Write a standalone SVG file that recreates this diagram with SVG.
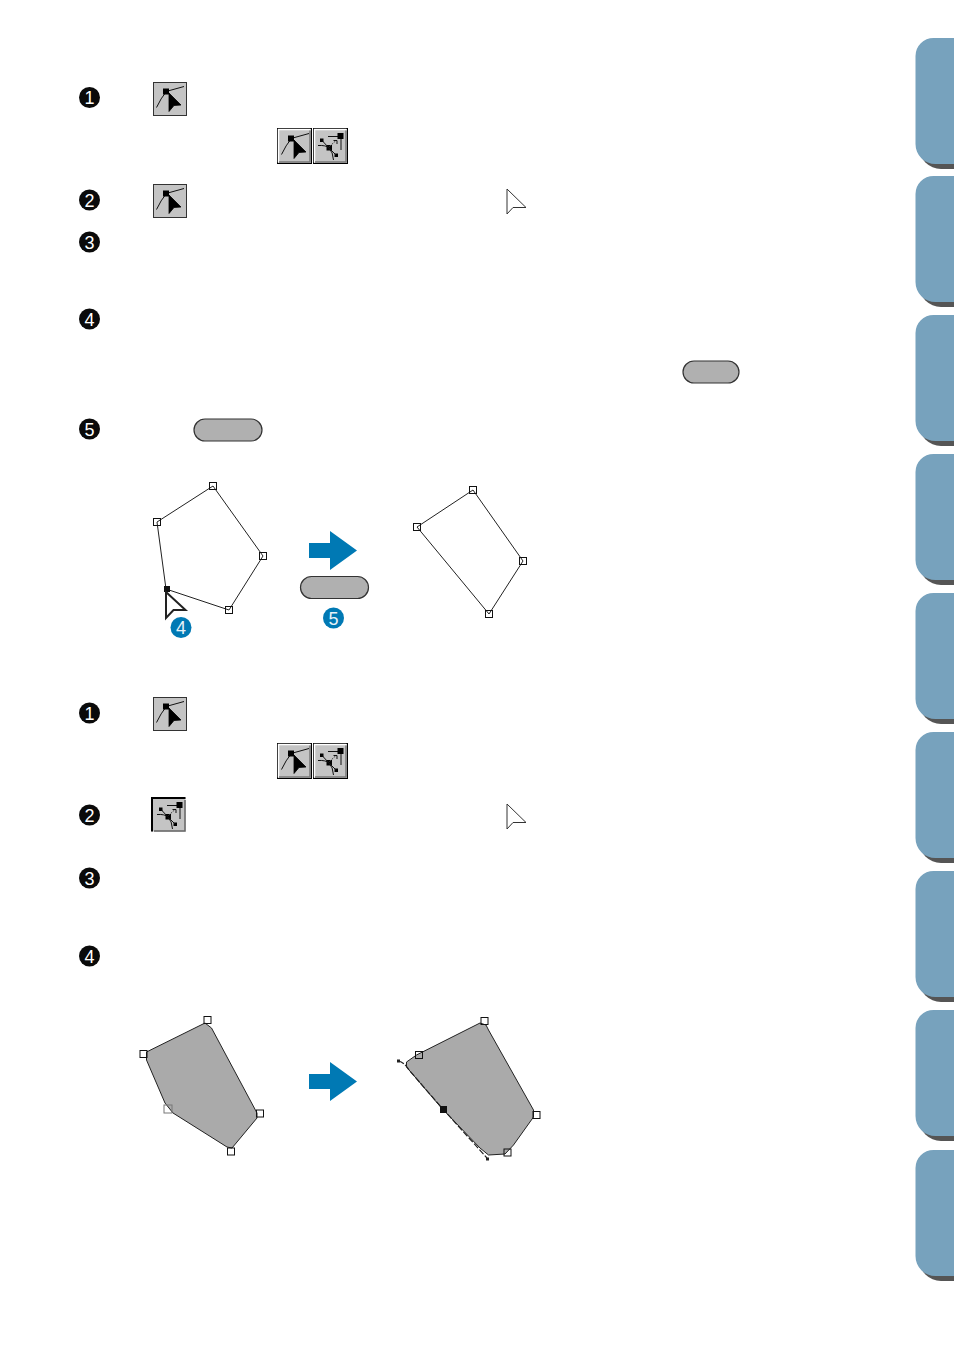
<svg xmlns="http://www.w3.org/2000/svg" width="954" height="1348" viewBox="0 0 954 1348">
<style>
.bullet{fill:#0a0a0a}
.bnum{font-family:"Liberation Sans",Arial,sans-serif;font-size:18px;fill:#fff;text-anchor:middle}
.cnum{font-family:"Liberation Sans",Arial,sans-serif;font-size:18px;fill:#e8f2f8;text-anchor:middle}
.blue{fill:#0079b4}
.pill{fill:#b0b0b0;stroke:#333;stroke-width:1.2}
.tab{fill:#77a2bd}
.tabs{fill:#555}
.btn{fill:#c4c4c4}
.ln{fill:none;stroke:#111;stroke-width:1}
.edge{fill:none;stroke:#222;stroke-width:1}
.gray{fill:#aaa;stroke:#222;stroke-width:1;stroke-linejoin:round}
.cursor{fill:#fff;stroke:#333;stroke-width:1}
</style>
<defs>
<g id="tabshape">
<path class="tabs" d="M919 100V109a22 22 0 0 0 22 22H954V100Z"/>
<path class="tab" d="M954 0H933.500a18 18 0 0 0-18 18V106a20 20 0 0 0 20 20H954Z"/>
</g>
<g id="glyphA">
<path class="ln" d="M3.500 25.500Q8 16 13 10M13 9.500L31 4.500"/>
<rect x="10" y="6.500" width="6" height="6" fill="#000"/>
<path d="M16 11L28 23L21 23.500L16 29.500Z" fill="#000" stroke="#000" stroke-width="0.800"/>
</g>
<g id="glyphB">
<path class="ln" d="M14 8.500H27V22"/>
<rect x="23.500" y="5" width="6" height="6" fill="#000"/>
<rect x="12.500" y="17" width="5.500" height="5.500" fill="#000"/>
<rect x="6" y="10.500" width="3.500" height="3.500" fill="#000"/>
<rect x="20.500" y="25.500" width="3.500" height="3.500" fill="#000"/>
<path class="ln" d="M4 17.500Q12 17 15 20Q19 24 19.500 32M8 12.500L15 20M15 20L22 27"/>
<path d="M15.500 18.500L22 12.500" fill="none" stroke="#444" stroke-width="1" stroke-dasharray="2 1"/>
<path class="ln" d="M19.500 12.500H23V16"/>
</g>
<g id="iconFlat">
<rect x="0.500" y="0.500" width="33" height="33" class="btn" stroke="#333"/>
<use href="#glyphA"/>
</g>
<g id="cursorSmall">
<path class="cursor" d="M0.500 0L19.500 18.500H6.500L0.500 25Z"/>
</g>
<g id="sq"><rect x="-3.500" y="-3.500" width="7" height="7" fill="none" stroke="#111" stroke-width="1"/></g>
</defs>

<g id="side-tabs">
<use href="#tabshape" y="38"/>
<use href="#tabshape" y="176"/>
<use href="#tabshape" y="315"/>
<use href="#tabshape" y="454"/>
<use href="#tabshape" y="593"/>
<use href="#tabshape" y="732"/>
<use href="#tabshape" y="871"/>
<use href="#tabshape" y="1010"/>
<use href="#tabshape" y="1150"/>
</g>

<g id="bullets">
<g id="b1a"><circle class="bullet" cx="89.500" cy="97.500" r="10.500"/><text class="bnum" x="89.500" y="104">1</text></g>
<g id="b2a"><circle class="bullet" cx="89.500" cy="200" r="10.500"/><text class="bnum" x="89.500" y="206.500">2</text></g>
<g id="b3a"><circle class="bullet" cx="89.500" cy="242" r="10.500"/><text class="bnum" x="89.500" y="248.500">3</text></g>
<g id="b4a"><circle class="bullet" cx="89.500" cy="319" r="10.500"/><text class="bnum" x="89.500" y="325.500">4</text></g>
<g id="b5a"><circle class="bullet" cx="89.500" cy="429" r="10.500"/><text class="bnum" x="89.500" y="435.500">5</text></g>
<g id="b1b"><circle class="bullet" cx="89.500" cy="713" r="10.500"/><text class="bnum" x="89.500" y="719.500">1</text></g>
<g id="b2b"><circle class="bullet" cx="89.500" cy="815" r="10.500"/><text class="bnum" x="89.500" y="821.500">2</text></g>
<g id="b3b"><circle class="bullet" cx="89.500" cy="878" r="10.500"/><text class="bnum" x="89.500" y="884.500">3</text></g>
<g id="b4b"><circle class="bullet" cx="89.500" cy="956" r="10.500"/><text class="bnum" x="89.500" y="962.500">4</text></g>
</g>

<g id="icon-1a"><use href="#iconFlat" x="153" y="82"/></g>
<g id="icon-2a"><use href="#iconFlat" x="153" y="184"/></g>
<g id="icon-1b"><use href="#iconFlat" x="153" y="697"/></g>

<g id="toolbar-a">
<rect x="277.500" y="128.500" width="34" height="35" fill="#c4c4c4" stroke="#000"/>
<path d="M278.500 162.500V129.500H310.500" fill="none" stroke="#fff" stroke-width="1.500"/>
<path d="M279 162H310V130.500" fill="none" stroke="#777" stroke-width="1.500"/>
<use href="#glyphA" x="278" y="129"/>
<rect x="313.500" y="128.500" width="34" height="35" fill="#c4c4c4" stroke="#000"/>
<path d="M314.500 162.500V129.500H346.500" fill="none" stroke="#fff" stroke-width="1.500"/>
<path d="M315 162H346V130.500" fill="none" stroke="#777" stroke-width="1.500"/>
<use href="#glyphB" x="314" y="128"/>
</g>
<g id="toolbar-b">
<rect x="277.500" y="743.500" width="34" height="35" fill="#c4c4c4" stroke="#000"/>
<path d="M278.500 777.500V744.500H310.500" fill="none" stroke="#fff" stroke-width="1.500"/>
<path d="M279 777H310V745.500" fill="none" stroke="#777" stroke-width="1.500"/>
<use href="#glyphA" x="278" y="744"/>
<rect x="313.500" y="743.500" width="34" height="35" fill="#c4c4c4" stroke="#000"/>
<path d="M314.500 777.500V744.500H346.500" fill="none" stroke="#fff" stroke-width="1.500"/>
<path d="M315 777H346V745.500" fill="none" stroke="#777" stroke-width="1.500"/>
<use href="#glyphB" x="314" y="743"/>
</g>
<g id="icon-2b">
<rect x="151.500" y="797.500" width="34" height="34" fill="#c4c4c4"/>
<path d="M152 831.500V798H185.500" fill="none" stroke="#000" stroke-width="2"/>
<path d="M154 831H185V800" fill="none" stroke="#666" stroke-width="1.500"/>
<use href="#glyphB" x="153" y="797"/>
</g>

<g id="cursor-a"><use href="#cursorSmall" x="506.500" y="189"/></g>
<g id="cursor-b"><use href="#cursorSmall" x="506.500" y="804"/></g>

<g id="pill-a"><rect class="pill" x="683" y="361" width="56" height="22" rx="11"/></g>
<g id="pill-b"><rect class="pill" x="194" y="419" width="68" height="22" rx="11"/></g>

<g id="shape-a1">
<path class="edge" d="M213 486L263 556L229 610L166 589L157 522Z"/>
<use href="#sq" x="213" y="486"/>
<use href="#sq" x="157" y="522"/>
<use href="#sq" x="263" y="556"/>
<use href="#sq" x="229" y="610"/>
<rect x="164" y="586" width="6" height="6" fill="#111"/>
<path d="M166 592L185.500 610L173.500 610L166 618Z" fill="#fff" stroke="#222" stroke-width="2"/>
<circle class="blue" cx="181" cy="627.500" r="10.500"/>
<text class="cnum" x="181" y="634">4</text>
</g>
<g id="shape-a2">
<path class="edge" d="M473 490L523 561L489 614L417 527Z"/>
<use href="#sq" x="473" y="490"/>
<use href="#sq" x="417" y="527"/>
<use href="#sq" x="523" y="561"/>
<use href="#sq" x="489" y="614"/>
</g>
<g id="pill-c">
<rect class="pill" x="300.500" y="576.500" width="68" height="22" rx="11"/>
<circle class="blue" cx="333.500" cy="618" r="10.500"/>
<text class="cnum" x="333.500" y="624.500">5</text>
</g>

<g id="connectors">
<path class="blue" d="M309 543H330V531L357 550.500L330 570V558H309Z"/>
<path class="blue" d="M309 1074H330V1062L357 1081.500L330 1101V1089H309Z"/>
</g>

<g id="shape-b1">
<path class="gray" d="M205 1023L211.500 1028L257 1113L257 1118L232 1148L227 1147L173 1113L165 1103L146.500 1060L146.500 1052Z"/>
<use href="#sq" x="207.500" y="1020"/>
<use href="#sq" x="143.500" y="1054"/>
<rect x="164" y="1105" width="8" height="8" fill="none" stroke="#777"/>
<use href="#sq" x="260" y="1113.500"/>
<use href="#sq" x="231" y="1151.500"/>
</g>
<g id="shape-b2">
<path class="gray" d="M480 1023L486 1025L488.500 1030L533.500 1110L533.500 1117L513.500 1145L505 1154L488.500 1155L480 1148L441.500 1108L406.500 1067L406.500 1062L416.500 1055Z"/>
<path d="M398.500 1061Q404 1062 409 1070L442 1108M442 1108L487 1158" fill="none" stroke="#222" stroke-width="1.200" stroke-dasharray="6 2"/>
<use href="#sq" x="484.500" y="1021"/>
<use href="#sq" x="419" y="1055"/>
<use href="#sq" x="536.500" y="1115"/>
<use href="#sq" x="507.500" y="1152.500"/>
<rect x="440" y="1106" width="7" height="7" fill="#111"/>
<rect x="397" y="1059.500" width="3" height="3" fill="#222"/>
<rect x="486" y="1157.500" width="3" height="3" fill="#222"/>
</g>
</svg>
